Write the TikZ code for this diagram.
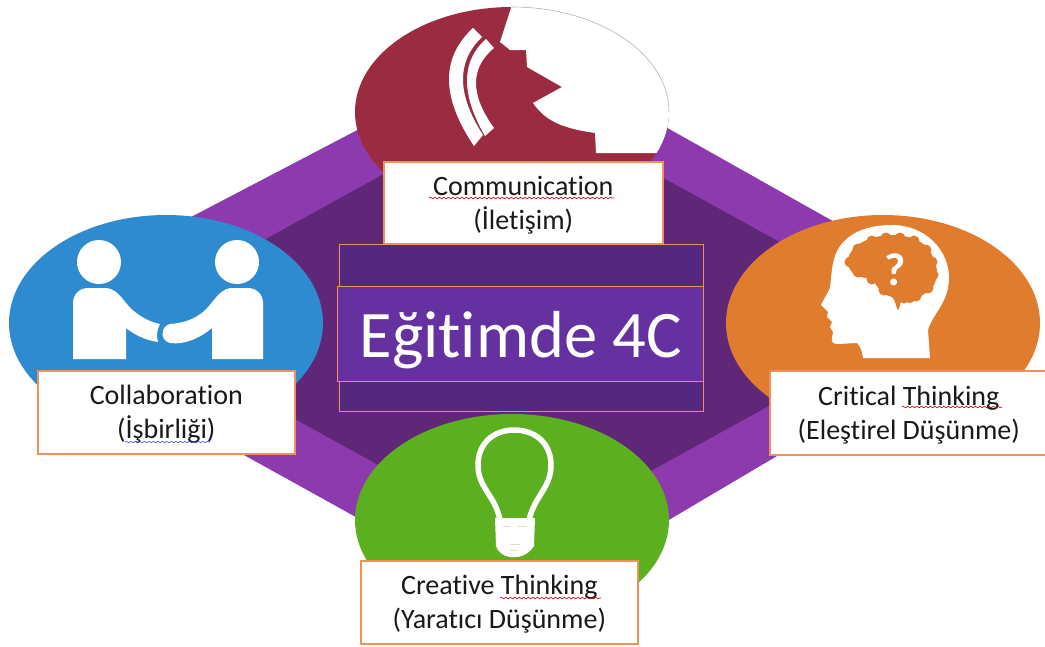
\documentclass[tikz,border=0pt]{standalone}
\usepackage{fontspec}
\setmainfont[RawFeature={-liga}]{Carlito}
\usetikzlibrary{decorations.pathmorphing}
\definecolor{cRed}{HTML}{9B2B40}
\definecolor{cBlue}{HTML}{2E8BD0}
\definecolor{cOrange}{HTML}{E07C2E}
\definecolor{cGreen}{HTML}{5CB020}
\definecolor{cLight}{HTML}{8C3AAE}
\definecolor{cDark}{HTML}{602678}
\definecolor{cBand}{HTML}{55287F}
\definecolor{cInner}{HTML}{6531A0}
\definecolor{cEdge}{HTML}{F0905A}
\newcommand{\lowline}[1]{\raisebox{-2pt}[\height][\depth]{#1}}
\tikzset{
  labelbox/.style={draw=cEdge,line width=1.6pt,fill=white,align=center,inner sep=0pt,font=\fontsize{28}{34}\selectfont,text=black!90},
  centerbox/.style={draw=cEdge,line width=1.2pt,inner sep=0pt},
  icon/.style={fill=white,draw=none},
  wavyred/.style={draw=red!75!black,line width=.6pt,decorate,decoration={snake,amplitude=.8pt,segment length=4.5pt}},
  wavyblue/.style={draw=blue!70!white,line width=.6pt,decorate,decoration={snake,amplitude=.8pt,segment length=4.5pt}},
}
\begin{document}
\begin{tikzpicture}[x=1pt,y=-1pt]
\useasboundingbox (0,0) rectangle (1045,646);
\clip (0,0) rectangle (1045,646);
\fill[white] (0,0) rectangle (1045,646);
% diamond
\fill[cLight] (520,45) -- (170,228) -- (170,414) -- (520,608) -- (870,401) -- (870,242) -- cycle;
\fill[cDark] (520,99) -- (117,321) -- (520,543) -- (923,321) -- cycle;
% top ellipse
\begin{scope}
\clip (512,112) ellipse [x radius=157,y radius=105];
\fill[cRed] (340,0) rectangle (680,220);
\fill[white] (511,0) -- (511,8) -- (500,42) -- (510,50) -- (526,50) -- (527,67) -- (562,87) -- (533,103)
  .. controls (545,120) and (560,128) .. (595,133) -- (596,153) -- (680,153) -- (680,0) -- cycle;
\fill[white] (473,28) .. controls (440.7,58) and (441,97) .. (474,146) -- (483,135) .. controls (456.7,94.3) and (456.3,61.7) .. (482,37) -- cycle;
\fill[white] (486,39) .. controls (461,61) and (460.7,94) .. (485,136) -- (494,128) .. controls (470,94.7) and (470,68) .. (494,48) -- cycle;
\end{scope}
\draw[black!25,line width=.6pt] (512,7) arc[start angle=-90,end angle=0,x radius=157,y radius=105];
% blue ellipse
\fill[cBlue] (166,323) ellipse [x radius=157,y radius=108];
\fill[icon] (99,262) circle (22);
\fill[icon] (237,262) circle (22);
\fill[icon] (73,359) -- (73,303) .. controls (73,294) and (80,288) .. (88,288) -- (107,288)
  .. controls (120,290) and (125,305) .. (135,312) .. controls (143,318) and (150,322) .. (160,324)
  .. controls (157,330) and (156,336) .. (158,342) .. controls (145,340) and (135,335) .. (126,328) -- (126,359) -- cycle;
\fill[icon] (263,359) -- (263,303) .. controls (263,294) and (256,288) .. (248,288) -- (230,288)
  .. controls (218,290) and (212,305) .. (203,312) .. controls (193,320) and (183,323) .. (170,324)
  .. controls (161,326) and (159,340) .. (170,343) .. controls (185,345) and (200,338) .. (212,328) -- (212,359) -- cycle;
% orange ellipse
\fill[cOrange] (883,323) ellipse [x radius=157,y radius=108];
\fill[icon] (863,358) .. controls (862,350) and (860,346) .. (857,343) -- (838,344)
  .. controls (833,344) and (831,342) .. (832,338) -- (833,332) -- (830,327) -- (832,322) -- (827,317) -- (828,312) -- (821,305)
  -- (830,288) .. controls (832,270) and (832,258) .. (840,246) .. controls (852,230) and (872,225) .. (892,225)
  .. controls (925,225) and (950,250) .. (949,280) .. controls (948,303) and (932,315) .. (928,330) -- (930,358) -- cycle;
\fill[cOrange] plot[smooth cycle,tension=.5] coordinates {(847,262) (855,247) (872,238) (892,235) (912,238) (927,247) (935,262) (937,275) (932,288) (918,298) (910,303) (902,300) (898,310) (893,298) (882,293) (872,280) (855,275)};
\foreach \px/\py in {850/262,858/249,872/241,886/238,900/238,914/241,926/250,932/262,933/275,928/288,916/296,904/298,884/290,872/279,858/272}
  \fill[cOrange] (\px,\py) circle (5.5);
\node[text=white,font=\fontsize{46}{46}\selectfont\bfseries,inner sep=0pt] (qmark) at (895,270) {?};
% green ellipse
\fill[cGreen] (512,520) ellipse [x radius=157,y radius=106];
\draw[white,line width=5.5pt] (500,520) .. controls (495,495) and (478,488) .. (478,465)
  .. controls (478,443) and (494,430) .. (514,430) .. controls (535,430) and (551,443) .. (551,465)
  .. controls (551,488) and (535,495) .. (529,520);
\fill[icon] (495,518) -- (535,518) -- (534,546) .. controls (530,552) and (525,556) .. (517,557) -- (510,557)
  .. controls (503,556) and (498,552) .. (496,546) -- cycle;
\draw[cGreen!30!white,line width=.7pt] (503,526) -- (510,526) (518,526) -- (527,526) (510,544) -- (520,544) (510,550) -- (518,550);
% center
\node[centerbox,fill=cBand,minimum width=364pt,minimum height=167pt,anchor=north west] (band) at (339,244) {};
\node[centerbox,fill=cInner,minimum width=366pt,minimum height=95pt,anchor=north west,text=white,font=\fontsize{66.5}{66.5}\selectfont] (title) at (337,286) {\raisebox{-6pt}[\height][\depth]{Eğitimde 4C}};
% label boxes
\node[labelbox,minimum width=279pt,minimum height=82pt,anchor=north west] (comm) at (383,161) {\lowline{Communication}\\\lowline{(İletişim)}};
\node[labelbox,minimum width=257pt,minimum height=83pt,anchor=north west] (coll) at (37,370) {\lowline{Collaboration}\\\lowline{(İşbirliği)}};
\node[labelbox,minimum width=278pt,minimum height=84pt,anchor=north west] (crit) at (769,370) {\lowline{Critical Thinking}\\\lowline{(Eleştirel Düşünme)}};
\node[labelbox,minimum width=277pt,minimum height=83pt,anchor=north west] (crea) at (360,560) {\lowline{Creative Thinking}\\\lowline{(Yaratıcı Düşünme)}};
% spell-check underlines
\draw[wavyred] (429,198) -- (614,198);
\draw[wavyblue] (125,442) -- (210,442);
\draw[wavyred] (902,407) -- (1002,407);
\draw[wavyred] (500,598) -- (601,598);
\end{tikzpicture}
\end{document}
